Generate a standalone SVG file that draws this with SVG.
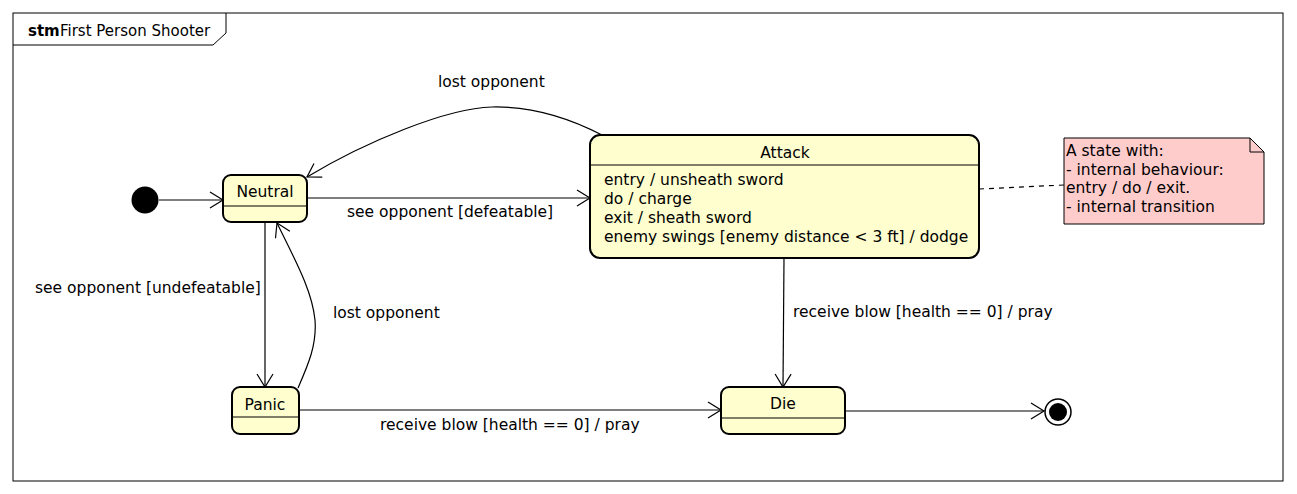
<svg xmlns="http://www.w3.org/2000/svg" width="1297" height="494" viewBox="0 0 1297 494">
<style>
text { font-family: "DejaVu Sans", "Liberation Sans", sans-serif; font-size: 15.5px; fill: #000; }
.title { font-size: 15px; }
.state { fill: #FEFECE; stroke: #000; stroke-width: 2; }
.div { stroke: #000; stroke-width: 1.2; }
.edge { fill: none; stroke: #000; stroke-width: 1.2; }
.c { text-anchor: middle; }
</style>
<defs>
<marker id="arr" markerUnits="userSpaceOnUse" markerWidth="16" markerHeight="18" refX="13" refY="8" orient="auto" viewBox="-1 -1 16 18">
<path d="M0,0 L13,8 L0,16" fill="none" stroke="#000" stroke-width="1.2"/>
</marker>
</defs>
<rect width="1297" height="494" fill="#fff"/>
<g id="frame">
<rect x="13" y="13" width="1270" height="468" fill="none" stroke="#000" stroke-width="1"/>
<path d="M13,45 L213,45 L226,33 L226,13" fill="none" stroke="#000" stroke-width="1"/>
<text class="title" x="28" y="36"><tspan font-weight="bold">stm</tspan><tspan x="60">First Person Shooter</tspan></text>
</g>
<g id="connectors">
<path class="edge" d="M159,200 L223,200" marker-end="url(#arr)"/>
<path class="edge" d="M307,198 L590,198" marker-end="url(#arr)"/>
<path class="edge" d="M602,135 C575,121 535,106 492,107 C447,108 365,142 307,177" marker-end="url(#arr)"/>
<path class="edge" d="M265,222 L265,387" marker-end="url(#arr)"/>
<path class="edge" d="M298,388 C308,365 317,345 315,320 C312,290 295,260 277,223" marker-end="url(#arr)"/>
<path class="edge" d="M299,410 L721,410" marker-end="url(#arr)"/>
<path class="edge" d="M784,258 L783,387" marker-end="url(#arr)"/>
<path class="edge" d="M845,411 L1044,411" marker-end="url(#arr)"/>
<path class="edge" d="M979,189 L1064,185" stroke-dasharray="5,5"/>
<text x="438" y="87">lost opponent</text>
<text x="347" y="217">see opponent [defeatable]</text>
<text x="35" y="293">see opponent [undefeatable]</text>
<text x="333" y="318">lost opponent</text>
<text x="380" y="430">receive blow [health == 0] / pray</text>
<text x="793" y="317">receive blow [health == 0] / pray</text>
</g>
<g id="initial">
<circle cx="145" cy="200" r="13.5" fill="#000"/>
</g>
<g id="Neutral">
<rect class="state" x="223" y="175" width="84" height="47" rx="8"/>
<line class="div" x1="224" y1="206" x2="306" y2="206"/>
<text class="c" x="265" y="197">Neutral</text>
</g>
<g id="Attack">
<rect class="state" x="590" y="135" width="389" height="123" rx="10"/>
<line class="div" x1="591" y1="165" x2="978" y2="165"/>
<text class="c" x="785" y="158">Attack</text>
<text x="604" y="185">entry / unsheath sword</text>
<text x="604" y="204">do / charge</text>
<text x="604" y="223">exit / sheath sword</text>
<text x="604" y="242">enemy swings [enemy distance &lt; 3 ft] / dodge</text>
</g>
<g id="Panic">
<rect class="state" x="232" y="387" width="67" height="47" rx="8"/>
<line class="div" x1="233" y1="417" x2="298" y2="417"/>
<text class="c" x="265" y="410">Panic</text>
</g>
<g id="Die">
<rect class="state" x="721" y="387" width="124" height="47" rx="8"/>
<line class="div" x1="722" y1="418" x2="844" y2="418"/>
<text class="c" x="783" y="409">Die</text>
</g>
<g id="final">
<circle cx="1058" cy="412" r="13" fill="#fff" stroke="#000" stroke-width="1.5"/>
<circle cx="1058" cy="412" r="9" fill="#000"/>
</g>
<g id="note">
<path d="M1064,138 L1250,138 L1264,152 L1264,224 L1064,224 Z" fill="#FFCCCC" stroke="#000" stroke-width="1"/>
<path d="M1250,138 L1250,152 L1264,152" fill="none" stroke="#000" stroke-width="1"/>
<text x="1066" y="156">A state with:</text>
<text x="1066" y="175">- internal behaviour:</text>
<text x="1066" y="193">entry / do / exit.</text>
<text x="1066" y="212">- internal transition</text>
</g>
</svg>
